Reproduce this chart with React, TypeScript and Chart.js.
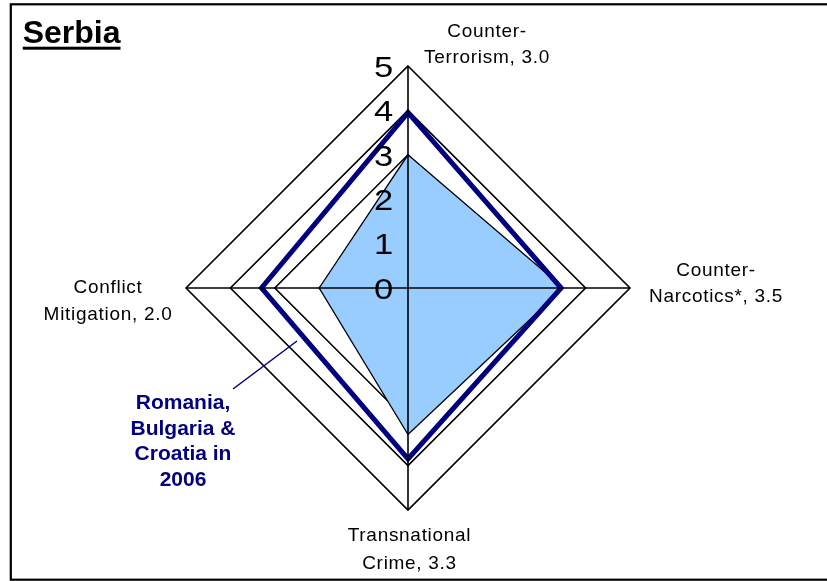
import React, { useEffect, useRef } from "react";
import { Chart, registerables } from "chart.js";

Chart.register(...registerables);

// ---- data ----
const categories: string[][] = [
  ["Counter-", "Terrorism, 3.0"],
  ["Counter-", "Narcotics*, 3.5"],
  ["Transnational", "Crime, 3.3"],
  ["Conflict", "Mitigation, 2.0"],
];
const serbiaValues = [3.0, 3.5, 3.3, 2.0];
const regionValues = [3.95, 3.45, 3.85, 3.3];
const tickValues = [0, 1, 2, 3, 4, 5];
const tickLabels = ["0", "1", "2", "3", "4", "5"];
const chartTitle = "Serbia";
const annotationLines = ["Romania,", "Bulgaria &", "Croatia in", "2006"];

// ---- styles / layout ----
const FONT = '"Liberation Sans", Arial, sans-serif';
const NAVY = "#000080";
const labelPlacement = [
  { dx: 79, dy: [-29.3, -3.3] },
  { dx: 86, dy: [-12.3, 13.7] },
  { dx: 1.5, dy: [31, 59] },
  { dx: -78, dy: [5.3, 32] },
];

const overlayPlugin = {
  id: "overlay",
  afterDatasetsDraw(chart: any) {
    const ctx: CanvasRenderingContext2D = chart.ctx;
    const r = chart.scales.r;
    const cx = r.xCenter;
    const cy = r.yCenter;
    ctx.save();
    // axis cross on top of the fill
    ctx.strokeStyle = "#000";
    ctx.lineWidth = 1.6;
    categories.forEach((_, i) => {
      const p = r.getPointPosition(i, r.drawingArea);
      ctx.beginPath();
      ctx.moveTo(cx, cy);
      ctx.lineTo(p.x, p.y);
      ctx.stroke();
    });
    // tick labels (slightly wide glyphs)
    ctx.fillStyle = "#000";
    ctx.font = `30px ${FONT}`;
    ctx.textAlign = "center";
    ctx.textBaseline = "alphabetic";
    tickValues.forEach((v, i) => {
      const y = cy - r.getDistanceFromCenterForValue(v);
      ctx.save();
      ctx.translate(cx - 24.5, y + 10.7);
      ctx.scale(1.15, 1);
      ctx.fillText(tickLabels[i], 0, 0);
      ctx.restore();
    });
    // point labels
    ctx.font = `19px ${FONT}`;
    (ctx as any).letterSpacing = "0.7px";
    categories.forEach((lines, i) => {
      const p = r.getPointPosition(i, r.drawingArea);
      const pl = labelPlacement[i];
      lines.forEach((t, j) => {
        ctx.fillText(t, p.x + pl.dx, p.y + pl.dy[j]);
      });
    });
    (ctx as any).letterSpacing = "0px";
    ctx.restore();
  },
  afterDraw(chart: any) {
    const ctx: CanvasRenderingContext2D = chart.ctx;
    ctx.save();
    // frame
    ctx.strokeStyle = "#000";
    ctx.lineWidth = 2.2;
    ctx.strokeRect(10.8, 4.3, 830, 575.4);
    // title
    ctx.fillStyle = "#000";
    ctx.font = `bold 32px ${FONT}`;
    ctx.textAlign = "left";
    ctx.textBaseline = "alphabetic";
    ctx.fillText(chartTitle, 22.7, 43.3);
    const w = ctx.measureText(chartTitle).width;
    ctx.fillRect(22.7, 46.7, w, 3);
    // annotation
    ctx.fillStyle = NAVY;
    ctx.font = `bold 21px ${FONT}`;
    ctx.textAlign = "center";
    annotationLines.forEach((t, i) => {
      ctx.fillText(t, 183, 409.3 + i * 25.4);
    });
    ctx.strokeStyle = NAVY;
    ctx.lineWidth = 1.5;
    ctx.beginPath();
    ctx.moveTo(233, 389);
    ctx.lineTo(297, 341);
    ctx.stroke();
    ctx.restore();
  },
};

export default function App() {
  const ref = useRef<HTMLCanvasElement | null>(null);
  useEffect(() => {
    if (!ref.current) return;
    const chart = new Chart(ref.current, {
      type: "radar",
      data: {
        labels: categories.map((c) => c.join(" ")),
        datasets: [
          {
            label: "Romania, Bulgaria & Croatia in 2006",
            data: regionValues,
            borderColor: NAVY,
            borderWidth: 5,
            fill: false,
            pointRadius: 0,
            borderJoinStyle: "miter",
          },
          {
            label: "Serbia",
            data: serbiaValues,
            borderColor: "#000",
            borderWidth: 1.3,
            backgroundColor: "#99CCFF",
            fill: true,
            pointRadius: 0,
          },
        ],
      },
      options: {
        responsive: false,
        animation: false,
        layout: { padding: { left: 186, right: 197, top: 66, bottom: 71 } },
        plugins: { legend: { display: false }, tooltip: { enabled: false } },
        scales: {
          r: {
            min: 0,
            max: 5,
            ticks: { display: false, stepSize: 1 },
            grid: { color: "#000", lineWidth: 1.6 },
            angleLines: { display: false },
            pointLabels: { display: false },
          },
        },
      },
      plugins: [overlayPlugin],
    } as any);
    return () => chart.destroy();
  }, []);
  return (
    <div style={{ position: "absolute", left: 0, top: 0, width: 827, height: 581, background: "#fff" }}>
      <canvas ref={ref} width={827} height={581} style={{ display: "block", width: 827, height: 581 }} />
    </div>
  );
}
